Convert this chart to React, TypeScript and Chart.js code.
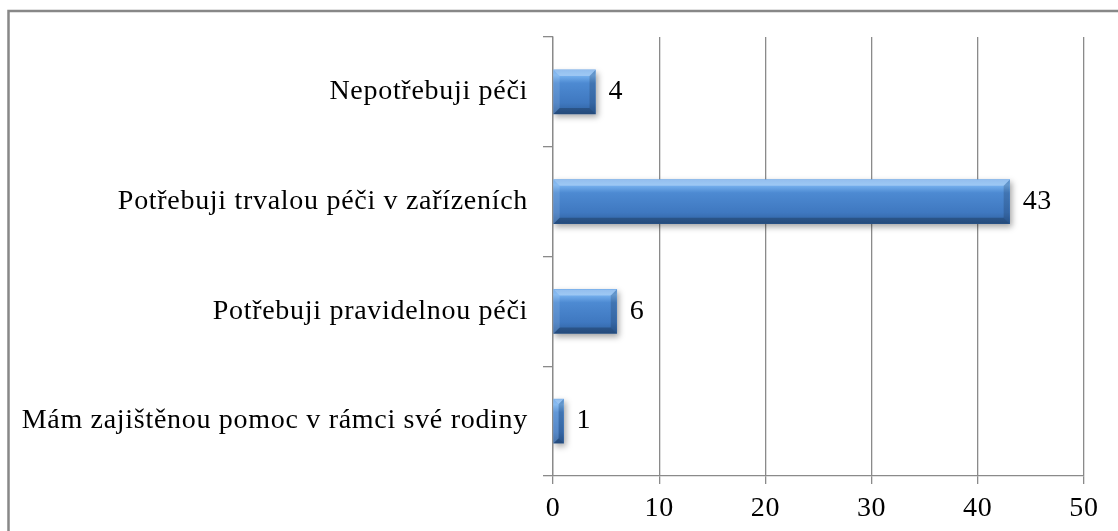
import React, { useEffect, useRef } from 'react';
import { Chart, registerables } from 'chart.js';

Chart.register(...registerables);

const categories = [
  'Nepotřebuji péči',
  'Potřebuji trvalou péči v zařízeních',
  'Potřebuji pravidelnou péči',
  'Mám zajištěnou pomoc v rámci své rodiny',
];
const values = [4, 43, 6, 1];
const xTicks = [0, 10, 20, 30, 40, 50];

const FONT = "'Liberation Serif', 'Times New Roman', serif";
const FONT_SIZE = 28;
const GRAY = '#8a8a8a';
const BAR_H = 44;
const SPACING = '0.7px';

const decorPlugin = {
  id: 'decor',
  beforeLayout(chart: any) {
    chart.ctx.letterSpacing = SPACING;
  },
  beforeDraw(chart: any) {
    const ctx = chart.ctx;
    ctx.letterSpacing = SPACING;
    ctx.save();
    ctx.strokeStyle = '#888888';
    ctx.lineWidth = 2.5;
    ctx.beginPath();
    ctx.moveTo(8.5, chart.height);
    ctx.lineTo(8.5, 11);
    ctx.lineTo(chart.width, 11);
    ctx.stroke();
    ctx.restore();
  },
  beforeDatasetsDraw(chart: any) {
    const ctx = chart.ctx;
    ctx.save();
    ctx.shadowColor = 'rgba(0,0,0,0.35)';
    ctx.shadowBlur = 6;
    ctx.shadowOffsetX = 2;
    ctx.shadowOffsetY = 3;
  },
  afterDatasetsDraw(chart: any) {
    const ctx = chart.ctx;
    ctx.restore();
    const meta = chart.getDatasetMeta(0);
    const data = chart.data.datasets[0].data;
    meta.data.forEach((bar: any, i: number) => {
      const left = Math.min(bar.base, bar.x);
      const right = Math.max(bar.base, bar.x);
      const top = bar.y - bar.height / 2;
      const bottom = bar.y + bar.height / 2;
      const b = Math.min(6, (right - left) / 2);
      ctx.save();
      const poly = (pts: number[][], fill: string) => {
        ctx.beginPath();
        ctx.moveTo(pts[0][0], pts[0][1]);
        for (let k = 1; k < pts.length; k++) ctx.lineTo(pts[k][0], pts[k][1]);
        ctx.closePath();
        ctx.fillStyle = fill;
        ctx.fill();
      };
      poly([[left, top], [right, top], [right - b, top + b], [left + b, top + b]], 'rgba(255,255,255,0.28)');
      poly([[left, bottom], [right, bottom], [right - b, bottom - b], [left + b, bottom - b]], 'rgba(0,0,0,0.22)');
      poly([[left, top], [left + b, top + b], [left + b, bottom - b], [left, bottom]], 'rgba(255,255,255,0.12)');
      poly([[right, top], [right - b, top + b], [right - b, bottom - b], [right, bottom]], 'rgba(0,0,0,0.15)');
      ctx.restore();

      ctx.save();
      ctx.letterSpacing = SPACING;
      ctx.font = `${FONT_SIZE}px ${FONT}`;
      ctx.fillStyle = '#000000';
      ctx.textAlign = 'left';
      ctx.textBaseline = 'middle';
      ctx.fillText(String(data[i]), right + 13, bar.y);
      ctx.restore();
    });
  },
};

export default function App() {
  const ref = useRef<HTMLCanvasElement | null>(null);

  useEffect(() => {
    if (!ref.current) return;
    const chart = new Chart(ref.current, {
      type: 'bar',
      data: {
        labels: categories,
        datasets: [
          {
            data: values,
            barThickness: BAR_H,
            borderWidth: 0,
            backgroundColor: (c: any) => {
              const ch = c.chart;
              const y = ch.scales && ch.scales.y;
              if (!y || c.dataIndex == null) return '#4a86c8';
              const center = y.getPixelForValue(c.dataIndex);
              if (!Number.isFinite(center)) return '#4a86c8';
              const g = ch.ctx.createLinearGradient(0, center - BAR_H / 2, 0, center + BAR_H / 2);
              g.addColorStop(0, '#6aa6e8');
              g.addColorStop(0.12, '#78b3f0');
              g.addColorStop(0.3, '#4d8ad2');
              g.addColorStop(0.75, '#3f78c0');
              g.addColorStop(1, '#2f609e');
              return g;
            },
          },
        ],
      },
      options: {
        indexAxis: 'y',
        animation: false,
        responsive: false,
        layout: { padding: { left: 14, top: 37, right: 34, bottom: 0 } },
        plugins: { legend: { display: false }, tooltip: { enabled: false } },
        scales: {
          x: {
            min: 0,
            max: 50,
            afterBuildTicks: (s: any) => {
              s.ticks = xTicks.map((v) => ({ value: v }));
            },
            afterFit: (s: any) => {
              s.height = 55;
            },
            ticks: { font: { family: FONT, size: FONT_SIZE }, color: '#000000', padding: 8 },
            grid: { color: GRAY, lineWidth: 1.3, tickLength: 8 },
            border: { color: GRAY, width: 1.3 },
          },
          y: {
            afterFit: (s: any) => {
              s.width = 553 - 14;
            },
            ticks: { font: { family: FONT, size: FONT_SIZE }, color: '#000000', padding: 15 },
            grid: { drawOnChartArea: false, color: GRAY, lineWidth: 1.3, tickLength: 10, offset: true },
            border: { color: GRAY, width: 1.3 },
          },
        },
      } as any,
      plugins: [decorPlugin],
    });
    return () => chart.destroy();
  }, []);

  return (
    <div style={{ position: 'absolute', left: 0, top: 0, width: 1118, height: 531, background: '#ffffff' }}>
      <canvas ref={ref} width={1118} height={531} style={{ display: 'block' }} />
    </div>
  );
}
